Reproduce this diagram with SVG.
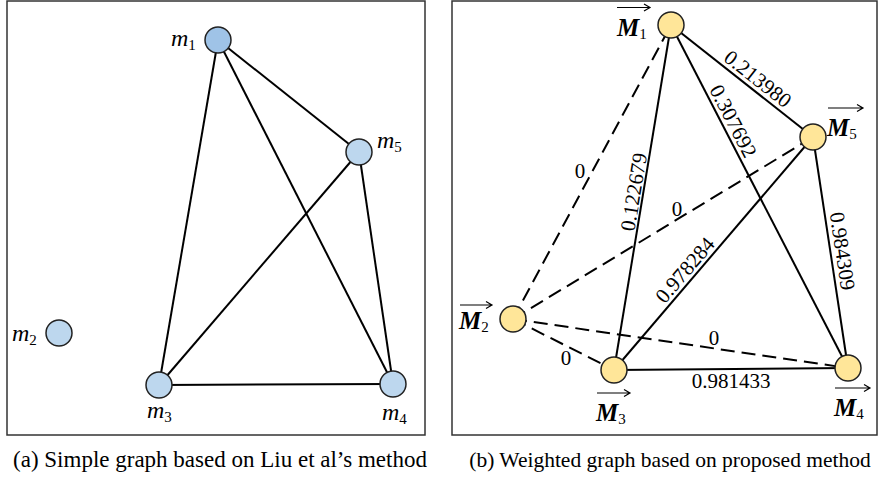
<svg xmlns="http://www.w3.org/2000/svg" width="878" height="478" viewBox="0 0 878 478">
<defs>
<style>
.frame{fill:none;stroke:#333;stroke-width:1.5}
.e{stroke:#000;stroke-width:2;fill:none}
.d{stroke:#000;stroke-width:2;fill:none;stroke-dasharray:14 7}
.nb{fill:#bdd7ee;stroke:#222;stroke-width:1.5}
.nb1{fill:#9fc3e7;stroke:#222;stroke-width:1.5}
.ny{fill:#ffe699;stroke:#222;stroke-width:1.5}
.ml{font-family:"Liberation Serif","Times New Roman",serif;font-style:italic;font-size:24px;fill:#000}
.Ml{font-family:"Liberation Serif","Times New Roman",serif;font-style:italic;font-weight:bold;font-size:25px;fill:#000}
.sub{font-style:normal;font-weight:normal;font-size:15px}
.w{font-family:"Liberation Serif","Times New Roman",serif;font-size:21px;fill:#000;text-anchor:middle}
.cap{font-family:"Liberation Serif","Times New Roman",serif;fill:#000;text-anchor:middle}
.vec{stroke:#000;stroke-width:1.2;fill:none}
</style>
</defs>
<rect class="frame" x="7" y="1" width="418" height="434"/>
<rect class="frame" x="452" y="1" width="425" height="434"/>
<g id="connectors-a">
<line class="e" x1="218" y1="40" x2="159" y2="385"/>
<line class="e" x1="218" y1="40" x2="393" y2="384"/>
<line class="e" x1="218" y1="40" x2="359" y2="152"/>
<line class="e" x1="359" y1="152" x2="159" y2="385"/>
<line class="e" x1="359" y1="152" x2="393" y2="384"/>
<line class="e" x1="159" y1="385" x2="393" y2="384"/>
</g>
<g id="node-m1"><circle class="nb1" cx="218" cy="40" r="13"/><text class="ml" x="171" y="46">m<tspan class="sub" dy="4">1</tspan></text></g>
<g id="node-m2"><circle class="nb" cx="59" cy="333" r="13"/><text class="ml" x="12" y="341">m<tspan class="sub" dy="4">2</tspan></text></g>
<g id="node-m3"><circle class="nb" cx="159" cy="385" r="13"/><text class="ml" x="147" y="418">m<tspan class="sub" dy="4">3</tspan></text></g>
<g id="node-m4"><circle class="nb" cx="393" cy="384" r="13"/><text class="ml" x="382" y="420">m<tspan class="sub" dy="4">4</tspan></text></g>
<g id="node-m5"><circle class="nb" cx="359" cy="152" r="13"/><text class="ml" x="377" y="148">m<tspan class="sub" dy="4">5</tspan></text></g>
<g id="connectors-b">
<line class="d" x1="513" y1="319" x2="671" y2="25"/>
<line class="d" x1="513" y1="319" x2="813" y2="137"/>
<line class="d" x1="513" y1="319" x2="848" y2="368"/>
<line class="d" x1="513" y1="319" x2="614" y2="370"/>
<line class="e" x1="671" y1="25" x2="614" y2="370"/>
<line class="e" x1="671" y1="25" x2="848" y2="368"/>
<line class="e" x1="671" y1="25" x2="813" y2="137"/>
<line class="e" x1="813" y1="137" x2="614" y2="370"/>
<line class="e" x1="813" y1="137" x2="848" y2="368"/>
<line class="e" x1="614" y1="370" x2="848" y2="368"/>
<text class="w" transform="translate(751,87.5) rotate(38.3)" y="-4">0.213980</text>
<text class="w" transform="translate(723.5,126.3) rotate(62.7)" y="-4">0.307692</text>
<text class="w" transform="translate(643.2,193.5) rotate(-80.6)" y="-2.5">0.122679</text>
<text class="w" transform="translate(693.4,277.2) rotate(-49.5)" y="-4">0.978284</text>
<text class="w" transform="translate(830.6,253) rotate(81.4)" y="-5">0.984309</text>
<text class="w" x="731" y="388">0.981433</text>
<text class="w" x="580" y="178">0</text>
<text class="w" x="677" y="216">0</text>
<text class="w" x="714" y="345">0</text>
<text class="w" x="566" y="365">0</text>
</g>
<g id="node-M1"><circle class="ny" cx="671" cy="25" r="13"/><path class="vec" d="M617,7.5H649M644,4L650,7.5L644,11"/><text class="Ml" x="617" y="36">M<tspan class="sub" dy="3">1</tspan></text></g>
<g id="node-M2"><circle class="ny" cx="513" cy="319" r="13"/><path class="vec" d="M460,305H491M486,301.5L492,305L486,308.5"/><text class="Ml" x="459" y="329">M<tspan class="sub" dy="3">2</tspan></text></g>
<g id="node-M3"><circle class="ny" cx="614" cy="370" r="13"/><path class="vec" d="M597,393H629M624,389.5L630,393L624,396.5"/><text class="Ml" x="596" y="421">M<tspan class="sub" dy="3">3</tspan></text></g>
<g id="node-M4"><circle class="ny" cx="848" cy="368" r="13"/><path class="vec" d="M835,388H869M864,384.5L870,388L864,391.5"/><text class="Ml" x="834" y="416">M<tspan class="sub" dy="3">4</tspan></text></g>
<g id="node-M5"><circle class="ny" cx="813" cy="137" r="13"/><path class="vec" d="M828,108H862M857,104.5L863,108L857,111.5"/><text class="Ml" x="827" y="136">M<tspan class="sub" dy="3">5</tspan></text></g>
<text class="cap" x="220" y="467" font-size="23">(a) Simple graph based on Liu et al’s method</text>
<text class="cap" x="670" y="467" font-size="21.5">(b) Weighted graph based on proposed method</text>
</svg>
